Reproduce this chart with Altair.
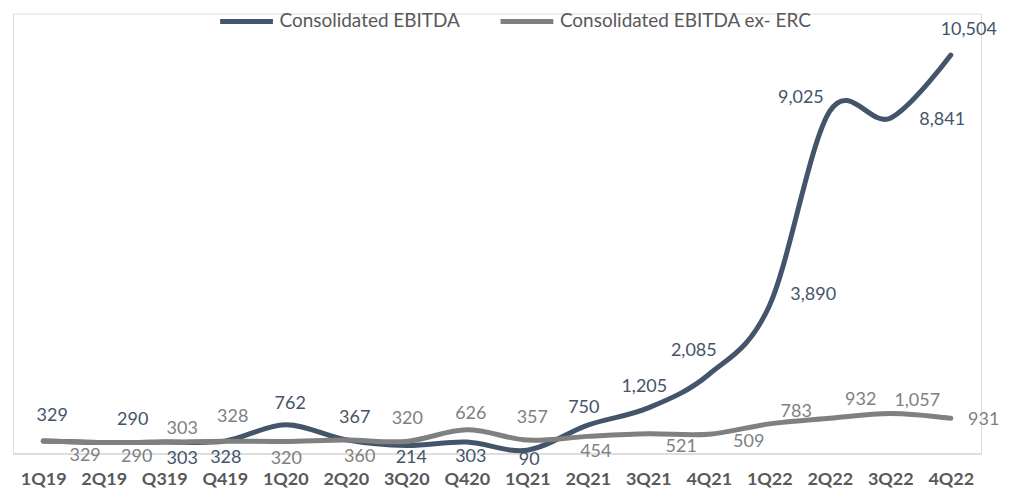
import altair as alt
import pandas as pd

quarters = ["1Q19", "2Q19", "Q319", "Q419", "1Q20", "2Q20", "3Q20", "Q420",
            "1Q21", "2Q21", "3Q21", "4Q21", "1Q22", "2Q22", "3Q22", "4Q22"]
ebitda = [329, 290, 303, 328, 762, 367, 214, 303, 90, 750, 1205, 2085, 3890, 9025, 8841, 10504]
ebitda_ex_erc = [329, 290, 303, 328, 320, 360, 320, 626, 357, 454, 521, 509, 783, 932, 1057, 931]
series_names = ["Consolidated EBITDA", "Consolidated EBITDA ex- ERC"]

# label placement offsets in pixels (styling, not data)
ebitda_label_dx = [9, 29, 18, 1, 5, 9, 5, 4, 2, -4, -4, -15, 44, -29, 52, 18]
ebitda_label_dy = [-25, -23, 17, 17, -21, -22, 13, 15, 10, -17, -21, -24, -11, -13, 2, -25]
ex_label_dx = [42, 33, 18, 8, 1, 14, 1, 4, 5, 8, 33, 40, 27, 31, 27, 33]
ex_label_dy = [15, 14, -13, -24, 18, 17, -22, -16, -22, 16, 13, 8, -12, -18, -13, 2]

DARK = "#44546A"
GRAY = "#808080"
FONT = "Lato"

df_a = pd.DataFrame({"quarter": quarters, "value": ebitda, "series": series_names[0],
                     "ldx": ebitda_label_dx, "ldy": ebitda_label_dy})
df_b = pd.DataFrame({"quarter": quarters, "value": ebitda_ex_erc, "series": series_names[1],
                     "ldx": ex_label_dx, "ldy": ex_label_dy})

x_enc = alt.X("quarter:N", sort=quarters, scale=alt.Scale(type="point", padding=0.5),
              axis=alt.Axis(title=None, labelAngle=0, ticks=False, grid=False,
                            labelFont=FONT, labelFontWeight="bold", labelFontSize=18,
                            labelColor="#595959", domainColor="#D9D9D9", domainWidth=1.5,
                            labelPadding=17))
y_enc = alt.Y("value:Q", scale=alt.Scale(domain=[0, 11600], nice=False, zero=True), axis=None)
color_enc = alt.Color("series:N", scale=alt.Scale(domain=series_names, range=[DARK, GRAY]),
                      legend=alt.Legend(title=None, orient="none", legendX=205, legendY=0,
                                        direction="horizontal", symbolType="stroke",
                                        symbolSize=2800, symbolStrokeWidth=5, clipHeight=16,
                                        padding=0, labelLimit=400,
                                        labelFont=FONT, labelFontSize=19, labelColor="#595959",
                                        columnPadding=38, labelOffset=4))

def line_layer(df):
    return alt.Chart(df).mark_line(interpolate="cardinal", strokeWidth=5, strokeCap="round").encode(
        x=x_enc, y=y_enc, color=color_enc)

def text_layer(df, col):
    return alt.Chart(df).mark_text(font=FONT, fontSize=18, color=col,
                                   dx=alt.ExprRef("datum.ldx"),
                                   dy=alt.ExprRef("datum.ldy")).encode(
        x=x_enc, y=y_enc,
        text=alt.Text("value:Q", format=","))

chart = alt.layer(
    line_layer(df_a),
    line_layer(df_b),
    text_layer(df_a, DARK),
    text_layer(df_b, GRAY),
).properties(width=970, height=441).configure_view(stroke=None).configure(background="white")

chart.save("out.html", embed_options={"renderer": "svg", "actions": False})
